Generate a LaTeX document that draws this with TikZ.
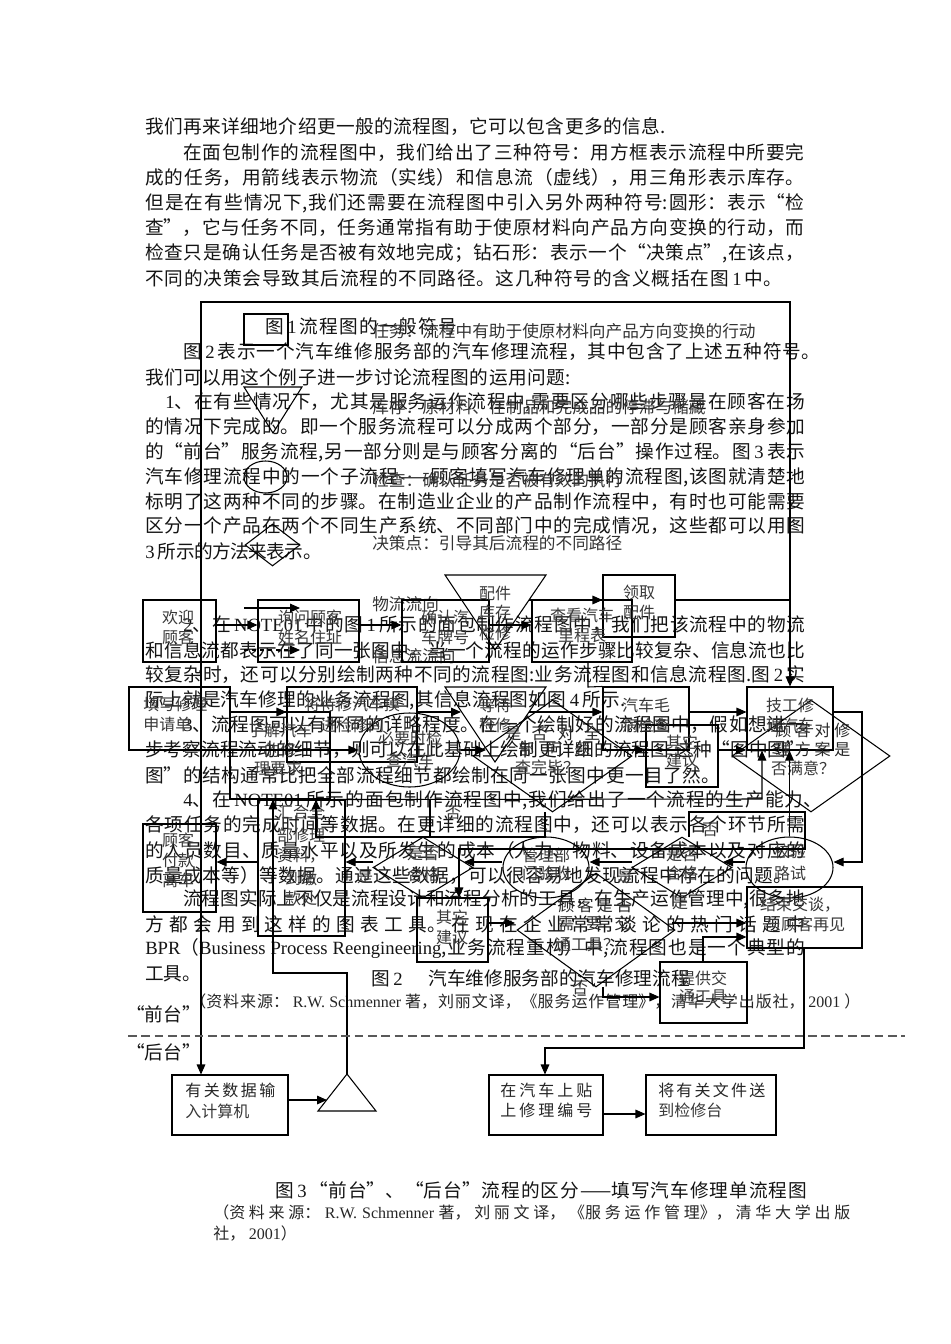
\documentclass[tikz,border=0pt]{standalone}
\usepackage{fontspec}
\setmainfont{Noto Sans CJK SC}
\newfontfamily\latfont{Liberation Serif}
\usetikzlibrary{arrows.meta,shapes.geometric,calc}
\XeTeXlinebreaklocale "zh"
\XeTeXlinebreakskip=0pt plus 6pt minus 0.6pt
\newcommand\en[1]{{\latfont #1}}
\newcommand\dg[1]{\kern2.5pt{\latfont #1}\kern2.5pt}
\newcommand\bd{\fontsize{14pt}{16pt}\selectfont}
\newcommand\sm{\fontsize{12pt}{14pt}\selectfont}
\newcommand\mdl{\fontsize{12.5pt}{14pt}\selectfont}
\tikzset{
 rectbox/.style={draw,rectangle,inner sep=0pt,line width=0.8pt},
 ovalbox/.style={draw,ellipse,inner sep=0pt,line width=0.8pt},
 diabox/.style={draw,diamond,inner sep=0pt,line width=0.8pt},
 tri/.style={draw,line width=0.8pt,line join=miter},
 wire/.style={draw,line width=0.8pt},
 arr/.style={draw,line width=0.8pt,-{Triangle[length=7.5pt,width=6.5pt]}},
 txt/.style={inner sep=0pt,anchor=west,black!92,font=\bd},
 lab/.style={inner sep=0pt,anchor=center,black!78,font=\sm,align=center},
}
% justified single line: name, x1, x2, y, text
\newcommand\jl[5]{\node[inner sep=0pt,anchor=west,black!92] (#1) at (#2,#4) {\parbox{\dimexpr 0.75pt*\numexpr #3-#2\relax\relax}{\bd\parindent=0pt\parfillskip=0pt\tolerance=10000\hbadness=10000 #5}};}
\newcommand\sjl[5]{\node[inner sep=0pt,anchor=west,black!85] (#1) at (#2,#4) {\parbox{\dimexpr 0.75pt*\numexpr #3-#2\relax\relax}{\sm\parindent=0pt\parfillskip=0pt\tolerance=10000\hbadness=10000 #5}};}
\newcommand\bx[5]{\node[rectbox,minimum width={(#4-#2)*0.75pt},minimum height={(#5-#3)*0.75pt}] (#1) at ({(#2+#4)/2},{(#3+#5)/2}) {};}
\newcommand\ov[5]{\node[ovalbox,minimum width={(#4-#2)*0.75pt},minimum height={(#5-#3)*0.75pt}] (#1) at ({(#2+#4)/2},{(#3+#5)/2}) {};}
\newcommand\dm[5]{\node[diabox,minimum width={(#4-#2)*0.75pt},minimum height={(#5-#3)*0.75pt}] (#1) at ({(#2+#4)/2},{(#3+#5)/2}) {};}
\newcommand\lb[4]{\node[lab] (#1) at (#2,#3) {#4};}
\begin{document}
\begin{tikzpicture}[x=0.75pt,y=-0.75pt]
\useasboundingbox (0,0) rectangle (950,1344);
\fill[white] (0,0) rectangle (950,1344);
% ---- body text
\jl{t01}{145}{665}{127}{我们再来详细地介绍更一般的流程图，它可以包含更多的信息.}
\jl{t02}{183}{804}{153}{在面包制作的流程图中，我们给出了三种符号：用方框表示流程中所要完}
\jl{t03}{145}{804}{178}{成的任务，用箭线表示物流（实线）和信息流（虚线），用三角形表示库存。}
\jl{t04}{145}{804}{203}{但是在有些情况下,我们还需要在流程图中引入另外两种符号:圆形：表示“检}
\jl{t05}{145}{804}{228}{查”，它与任务不同，任务通常指有助于使原材料向产品方向变换的行动，而}
\jl{t06}{145}{804}{253}{检查只是确认任务是否被有效地完成；钻石形：表示一个“决策点”,在该点，}
\jl{t07}{145}{782}{278}{不同的决策会导致其后流程的不同路径。这几种符号的含义概括在图\dg{1}中。}
\jl{t08}{265}{457}{326}{图\dg{1} 流程图的一般符号}
\jl{t09}{183}{820}{352}{图\dg{2}表示一个汽车维修服务部的汽车修理流程，其中包含了上述五种符号。}
\jl{t10}{145}{570}{377}{我们可以用这个例子进一步讨论流程图的运用问题:}
\jl{t11}{165}{805}{402}{\en{1}、在有些情况下，尤其是服务运作流程中,需要区分哪些步骤是在顾客在场}
\jl{t12}{145}{805}{427}{的情况下完成的。即一个服务流程可以分成两个部分，一部分是顾客亲身参加}
\jl{t13}{145}{805}{452}{的“前台”服务流程,另一部分则是与顾客分离的“后台”操作过程。图\dg{3}表示}
\jl{t14}{145}{805}{477}{汽车修理流程中的一个子流程——顾客填写汽车修理单的流程图,该图就清楚地}
\jl{t15}{145}{805}{502}{标明了这两种不同的步骤。在制造业企业的产品制作流程中，有时也可能需要}
\jl{t16}{145}{805}{526}{区分一个产品在两个不同生产系统、不同部门中的完成情况，这些都可以用图}
\jl{t17}{145}{322}{551}{\en{3}\kern2.5pt 所示的方法来表示。}
\jl{t18}{183}{805}{625}{\en{2}、在\dg{NOTE01}中的图\dg{1}所示的面包制作流程图中，我们把该流程中的物流}
\jl{t19}{145}{805}{650}{和信息流都表示在了同一张图中。当一个流程的运作步骤比较复杂、信息流也比}
\jl{t20}{145}{805}{675}{较复杂时，还可以分别绘制两种不同的流程图:业务流程图和信息流程图.图\dg{2}实}
\jl{t21}{145}{625}{700}{际上就是汽车修理的业务流程图,其信息流程图如图\dg{4}所示.}
\jl{t22}{183}{805}{725}{\en{3}、流程图可以有不同的详略程度。在一个绘制好的流程图中，假如想进一}
\jl{t23}{145}{805}{750}{步考察流程流动的细节，则可以在此基础上绘制更详细的流程图.这种“图中图”}
\jl{t24}{145}{720}{775}{图”的结构通常比把全部流程细节都绘制在同一张图中更一目了然。}
\jl{t25}{183}{822}{800}{\en{4}、在\dg{NOTE01}所示的面包制作流程图中,我们给出了一个流程的生产能力、}
\jl{t26}{145}{805}{825}{各项任务的完成时间等数据。在更详细的流程图中，还可以表示各个环节所需}
\jl{t27}{145}{805}{850}{的人员数目、质量水平以及所发生的成本（人力、物料、设备成本以及对应的}
\jl{t28}{145}{792}{875}{质量成本等）等数据。通过这些数据，可以很容易地发现流程中存在的问题。}
\jl{t29}{183}{805}{899}{流程图实际上不仅是流程设计和流程分析的工具，在生产运作管理中,很多地}
\jl{t30}{145}{805}{924}{方都会用到这样的图表工具。在现在企业常常谈论的热门话题中}
\jl{t31}{145}{805}{949}{\en{BPR}（\en{Business Process Reengineering},业务流程重构）中,流程图也是一个典型的}
\node[txt] (t32) at (145,974) {工具。};
\node[txt] (t33) at (371,978) {图\dg{2}\quad\kern3pt 汽车维修服务部的汽车修理流程};
\sjl{t34}{190}{860}{1001}{（资料来源： \en{R.W. Schmenner} 著，刘丽文译，《服务运作管理》，清华大学出版社， \en{2001} ）}
\node[txt] (t35) at (126,1014) {“前台”};
\node[txt] (t36) at (126,1052) {“后台”};
% ---- figure 1 legend
\coordinate (fa) at (201,302);
\coordinate (fb) at (790,302);
\bx{sq}{244}{314}{288}{345}
\coordinate (s1) at (244,387); \coordinate (s2) at (302,387); \coordinate (s3) at (273,433);
\draw[tri] (s1) -- (s2) -- (s3) -- cycle;
\ov{ci}{244}{461}{287}{493}
\dm{di}{245}{524}{300}{566}
\node[txt,font=\mdl,black!80] (g1) at (372,331) {任务：流程中有助于使原材料向产品方向变换的行动};
\node[txt,font=\mdl,black!80] (g2) at (372,407) {库存：原材料、在制品和完成品的停滞与储藏};
\node[txt,font=\mdl,black!80] (g3) at (372,480) {检查：确认任务是否被有效的执行};
\node[txt,font=\mdl,black!80] (g4) at (372,543) {决策点：引导其后流程的不同路径};
\node[txt,font=\mdl,black!80] (g5) at (372,604) {物流流向};
\node[txt,font=\mdl,black!80] (g6) at (372,656) {信息流流向};
% ---- figure 2 shapes
\bx{welc}{143}{600}{216}{662}
\bx{ask}{258}{600}{359}{662}
\bx{conf}{402}{600}{489}{662}
\bx{view}{532}{600}{632}{662}
\bx{fetch}{603}{575}{675}{637}
\bx{appl}{129}{687}{230}{750}
\bx{learn}{230}{712}{330}{799}
\bx{move}{287}{687}{417}{762}
\bx{fault}{603}{687}{689}{750}
\bx{tech}{747}{687}{833}{750}
\bx{othA}{646}{725}{718}{787}
\bx{gath}{258}{800}{345}{936}
\bx{pay}{143}{824}{216}{912}
\bx{othB}{417}{898}{488}{962}
\bx{fin}{747}{887}{862}{948}
\bx{trans}{660}{962}{747}{1023}
\ov{need}{359}{713}{460}{787}
\ov{verif}{746}{837}{833}{898}
\ov{mgmt}{503}{837}{589}{898}
\dm{done}{473}{700}{632}{812}
\dm{sat}{732}{700}{890}{812}
\dm{qa}{373}{837}{473}{898}
\dm{qb}{632}{837}{732}{898}
\dm{car}{517}{873}{675}{987}
\coordinate (st1) at (445,575); \coordinate (st2) at (546,575); \coordinate (st3) at (495,650);
\draw[tri] (st1) -- (st2) -- (st3) -- cycle;
\coordinate (wt1) at (445,687); \coordinate (wt2) at (546,687); \coordinate (wt3) at (495,762);
\draw[tri] (wt1) -- (wt2) -- (wt3) -- cycle;
% labels figure 2
\lb{a1}{178}{617}{欢迎} \lb{a2}{178}{637}{顾客}
\lb{a3}{310}{617}{询问顾客} \lb{a4}{310}{637}{姓名住址}
\lb{a5}{445}{617}{确认汽} \lb{a6}{445}{637}{车牌号}
\lb{a7}{495}{593}{配件} \lb{a8}{495}{612}{库存} \lb{a9}{495}{633}{检修}
\lb{a10}{582}{615}{查看汽车} \lb{a11}{582}{635}{里程表}
\lb{a12}{639}{592}{领取} \lb{a13}{639}{612}{配件}
\node[lab,anchor=west] (a14) at (143,704) {填写修理};
\node[lab,anchor=west] (a15) at (143,724) {申请单};
\lb{a16}{352}{704}{将待修汽车摸} \lb{a17}{352}{725}{进检修间}
\lb{a18}{280}{730}{了解汽车} \lb{a19}{280}{750}{的修} \lb{a20}{278}{768}{理要求}
\lb{a21}{410}{738}{必要时检} \lb{a22}{410}{760}{查汽车}
\lb{a23}{495}{705}{等待} \lb{a24}{495}{725}{检修}
\sjl{a25}{505}{600}{733}{是否对全}
\sjl{a26}{518}{590}{749}{部问题}
\lb{a27}{547}{767}{查完毕？}
\lb{a28}{646}{705}{汽车毛} \lb{a29}{646}{725}{病检查}
\lb{a30}{682}{742}{其它} \lb{a31}{682}{760}{建议}
\lb{a32}{790}{705}{技工修} \lb{a33}{790}{725}{理汽车}
\sjl{a34}{775}{850}{730}{顾客对修}
\sjl{a35}{775}{850}{749}{理方案是}
\lb{a36}{803}{768}{否满意？}
\lb{a37}{178}{840}{顾客} \lb{a38}{178}{860}{付款} \lb{a39}{178}{880}{离车}
\lb{a40}{301}{812}{汇合全} \lb{a41}{301}{835}{部修理} \lb{a42}{301}{856}{资料，} \lb{a43}{301}{878}{到缴} \lb{a44}{301}{898}{款处}
\lb{a45}{423}{854}{是否} \lb{a46}{423}{874}{合格}
\lb{a47}{453}{813}{否} \lb{a48}{365}{877}{是}
\lb{a49}{546}{855}{管理部} \lb{a50}{546}{873}{门验收}
\lb{a51}{682}{855}{是否} \lb{a52}{682}{873}{合格}
\lb{a53}{710}{830}{否} \lb{a54}{625}{877}{是}
\lb{a55}{790}{851}{校验} \lb{a56}{790}{873}{路试}
\lb{a57}{452}{917}{其它} \lb{a58}{452}{937}{建议}
\sjl{a59}{558}{632}{905}{顾客是否}
\sjl{a60}{558}{630}{923}{需要交}
\lb{a61}{587}{945}{通工具？}
\lb{a62}{680}{903}{是} \lb{a63}{580}{988}{否}
\lb{a64}{800}{905}{结束交谈，} \lb{a65}{805}{924}{与顾客再见}
\lb{a66}{703}{978}{提供交} \lb{a67}{703}{997}{通工具}
% levels
\coordinate (y600) at (0,600); \coordinate (y625) at (0,625); \coordinate (y712) at (0,712);
\coordinate (y750) at (0,750); \coordinate (y862) at (0,862); \coordinate (y923) at (0,923);
\coordinate (y937) at (0,937); \coordinate (y997) at (0,997); \coordinate (y1100) at (0,1100);
\coordinate (y1114) at (0,1114);
% ---- figure 3 shapes
\bx{d1}{172}{1075}{288}{1135}
\bx{d2}{489}{1075}{603}{1135}
\bx{d3}{646}{1075}{776}{1135}
\coordinate (tr1) at (347,1074); \coordinate (tr2) at (318,1111); \coordinate (tr3) at (376,1111);
\draw[tri] (tr1) -- (tr2) -- (tr3) -- cycle;
\sjl{b1}{185}{275}{1090}{有关数据输}
\node[lab,anchor=west] (b2) at (185,1111) {入计算机};
\sjl{b3}{500}{592}{1090}{在汽车上贴}
\sjl{b4}{500}{592}{1110}{上修理编号}
\sjl{b5}{658}{765}{1090}{将有关文件送}
\node[lab,anchor=west] (b6) at (658,1110) {到检修台};
\jl{c1}{275}{807}{1190}{图\dg{3}“前台”、“后台”流程的区分——填写汽车修理单流程图}
\sjl{c2}{213}{850}{1212}{（资料来源： \en{R.W. Schmenner} 著，刘丽文译，《服务运作管理》，清华大学出版}
\node[lab,anchor=west,black!85] (c3) at (213,1233) {社， \en{2001}）};
% ---- connectors
\draw[arr,{Triangle[length=7.5pt,width=6.5pt]}-{Triangle[length=7.5pt,width=6.5pt]}] (d1.north -| fa) -- (fa) -- (fb) -- (tech.north -| fb);
\draw[wire] (fetch.east |- y600) -- (fb |- y600);
\coordinate (la1) at (244,608); \coordinate (la2) at (300,608);
\draw[arr] (la1) -- (la2);
\coordinate (lb1) at (244,650); \coordinate (lb2) at (300,650);
\draw[arr,dashed] (lb1) -- (lb2);
\draw[arr] (welc.east |- y625) -- (ask.west |- y625);
\draw[arr] (ask.east |- y625) -- (conf.west |- y625);
\draw[arr] (conf.east |- y625) -- (view.west |- y625);
\coordinate (str) at (529,600);
\draw[arr] (str) -- (fetch.west |- y600);
\coordinate (v1) at (588,662); \coordinate (v2) at (588,687);
\draw[wire] (v1) -- (v2) -- (fault.north west);
\draw[arr] (appl.east |- y712) -- (move.west |- y712);
\coordinate (wl) at (461,712); \coordinate (wr) at (529,712);
\draw[arr] (move.east |- y712) -- (wl);
\draw[arr] (wr) -- (fault.west |- y712);
\draw[arr] (fault.east |- y712) -- (tech.west |- y712);
\draw[arr] (appl.east |- y750) -- (need.west |- y750);
\coordinate (dl) at (486,750);
\draw[arr] (need.east |- y750) -- (dl);
\draw[arr] (done.east |- y750) -- (othA.west |- y750);
\coordinate (ah) at (746,750);
\draw[arr] (othA.east |- y750) -- (ah);
\coordinate (ds1) at (545,812); \coordinate (ds2) at (545,837); \coordinate (ds3) at (316,837);
\draw[arr] (ds1) -- (ds2) -- (ds3) -- (ds3 |- gath.north);
\coordinate (up1) at (762,799); \coordinate (qt) at (430,799); \coordinate (qb0) at (430,837);
\draw[arr] (learn.south east) -- (up1) -- (up1 |- tech.south);
\draw[wire] (qt) -- (qb0);
\draw[arr] (verif.north) -- (verif.north |- tech.south);
\coordinate (te) at (862,712); \coordinate (te2) at (862,862);
\draw[arr] (tech.east |- y712) -- (te) -- (te2) -- (verif.east |- y862);
\coordinate (qbe) at (723,862); \coordinate (qbw) at (632,862);
\coordinate (qae) at (464,862); \coordinate (qaw) at (373,862);
\draw[arr] (verif.west |- y862) -- (qbe);
\draw[arr] (qbw) -- (mgmt.east |- y862);
\draw[arr] (mgmt.west |- y862) -- (qae);
\draw[arr] (qaw) -- (gath.east |- y862);
\draw[arr] (gath.west |- y862) -- (pay.east |- y862);
\coordinate (n0) at (689,837); \coordinate (n1) at (689,812); \coordinate (n2) at (805,812);
\coordinate (n3) at (805,849); \coordinate (n4) at (459,849);
\draw[arr] (n0) -- (n1) -- (n2) -- (n3) -- (n4) -- (n4 |- othB.north);
\coordinate (cl) at (515,923); \coordinate (cr) at (672,923);
\draw[arr] (othB.east |- y923) -- (cl);
\draw[arr] (cr) -- (fin.west |- y923);
\coordinate (cb) at (603,987); \coordinate (cb2) at (603,997);
\draw[arr] (cb) -- (cb2) -- (trans.west |- y997);
\coordinate (tn) at (703,937);
\draw[arr] (tn |- trans.north) -- (tn) -- (fin.west |- y937);
\coordinate (f1) at (804,1048); \coordinate (f2) at (545,1048);
\draw[arr] (f1 |- fin.south) -- (f1) -- (f2) -- (f2 |- d2.north);
\coordinate (g0) at (347,973); \coordinate (g9) at (273,973);
\draw[arr] (tr1) -- (g0) -- (g9) -- (g9 |- gath.north);
\coordinate (tl) at (327,1100);
\draw[arr] (d1.east |- y1100) -- (tl);
\draw[arr] (d2.east |- y1114) -- (d3.west |- y1114);
\coordinate (da) at (128,1036); \coordinate (db) at (905,1036);
\draw[black!65,line width=1.5pt,dash pattern=on 6.5pt off 3.5pt] (da) -- (db);
\end{tikzpicture}
\end{document}
